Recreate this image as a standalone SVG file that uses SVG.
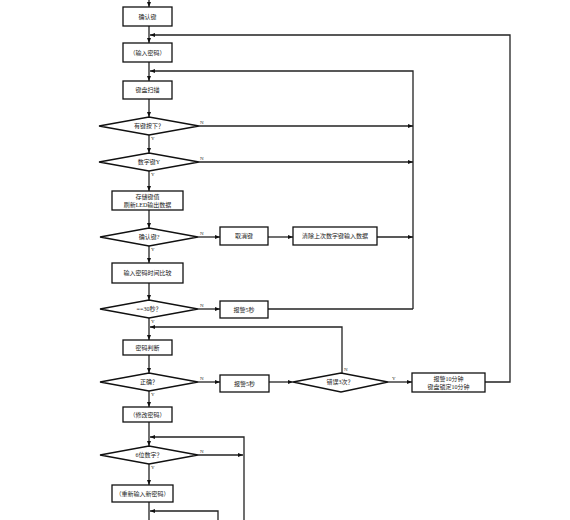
<svg xmlns="http://www.w3.org/2000/svg" width="570" height="520" viewBox="0 0 570 520">
<defs>
<marker id="ah" viewBox="0 0 10 10" refX="10" refY="5" markerWidth="5" markerHeight="5" orient="auto" markerUnits="userSpaceOnUse">
<path d="M0,1 L10,5 L0,9 z" fill="#111"/>
</marker>
</defs>
<style>
.n rect,.n polygon{fill:#fff;stroke:#111;stroke-width:1.3}
.n text{font-family:"Liberation Serif","Noto Sans CJK SC",serif;font-size:6px;fill:#222;text-anchor:middle}
.c path{fill:none;stroke:#222;stroke-width:1.3}
.c .a{marker-end:url(#ah)}
.lb{font-family:"Liberation Serif",serif;font-size:5px;fill:#333}
</style>
<rect width="570" height="520" fill="#fff"/>
<g class="c" id="connectors">
<path class="a" d="M149,0 V7"/>
<path class="a" d="M149,26 V43"/>
<path class="a" d="M149,62 V81"/>
<path class="a" d="M149,99 V117"/>
<path class="a" d="M149,135 V153"/>
<path class="a" d="M149,171 V191"/>
<path class="a" d="M149,210 V228"/>
<path class="a" d="M149,246 V263"/>
<path class="a" d="M149,283 V300"/>
<path class="a" d="M149,318 V340"/>
<path class="a" d="M149,355 V373"/>
<path class="a" d="M149,391 V407"/>
<path class="a" d="M149,422 V446"/>
<path class="a" d="M149,464 V485"/>
<path d="M149,502 V520"/>
<path class="a" d="M485,382 H510 V35 H150"/>
<path class="a" d="M413,309 V71 H150"/>
<path class="a" d="M199,126 H413"/>
<path class="a" d="M199,162 H413"/>
<path class="a" d="M198,237 H220"/>
<path class="a" d="M268,237 H293"/>
<path class="a" d="M377,237 H413"/>
<path class="a" d="M198,309 H220"/>
<path d="M268,309 H413"/>
<path class="a" d="M342,373 V327 H150"/>
<path class="a" d="M198,382 H220"/>
<path class="a" d="M269,382 H293"/>
<path class="a" d="M388,382 H412"/>
<path class="a" d="M244,520 V437 H150"/>
<path class="a" d="M198,455 H243"/>
<path class="a" d="M218,520 V511 H150"/>
</g>
<g class="lb">
<text x="200" y="124">N</text><text x="151" y="140">Y</text>
<text x="200" y="160">N</text><text x="151" y="176">Y</text>
<text x="200" y="235">N</text><text x="151" y="251">Y</text>
<text x="200" y="307">N</text><text x="151" y="323">Y</text>
<text x="200" y="380">N</text><text x="151" y="396">Y</text>
<text x="344" y="371">N</text><text x="392" y="380">Y</text>
<text x="200" y="453">N</text><text x="151" y="469">Y</text>
</g>
<g class="n" id="n1"><rect x="123" y="7" width="49" height="19"/><text x="147.5" y="18.5">确认键</text></g>
<g class="n" id="n2"><rect x="123" y="43" width="49" height="19"/><text x="147.5" y="54.5">（输入密码）</text></g>
<g class="n" id="n3"><rect x="123" y="81" width="49" height="18"/><text x="147.5" y="92">键盘扫描</text></g>
<g class="n" id="n4"><polygon points="99,126 149,117 199,126 149,135"/><text x="149" y="128">有键按下？</text></g>
<g class="n" id="n5"><polygon points="99,162 149,153 199,162 149,171"/><text x="149" y="164">数字键Y</text></g>
<g class="n" id="n6"><rect x="112" y="191" width="71" height="19"/><text x="147.5" y="199">存储键值</text><text x="147.5" y="206.5">刷新LED输出数据</text></g>
<g class="n" id="n7"><polygon points="100,237 149,228 198,237 149,246"/><text x="149" y="239">确认键?</text></g>
<g class="n" id="n8"><rect x="112" y="263" width="71" height="20"/><text x="147.5" y="275">输入密码时间比较</text></g>
<g class="n" id="n9"><polygon points="100,309 149,300 198,309 149,318"/><text x="149" y="311">==30秒？</text></g>
<g class="n" id="n10"><rect x="123" y="340" width="49" height="15"/><text x="147.5" y="349.5">密码判断</text></g>
<g class="n" id="n11"><polygon points="100,382 149,373 198,382 149,391"/><text x="149" y="384">正确？</text></g>
<g class="n" id="n12"><rect x="123" y="407" width="49" height="15"/><text x="147.5" y="416.5">（修改密码）</text></g>
<g class="n" id="n13"><polygon points="100,455 149,446 198,455 149,464"/><text x="149" y="457">6位数字？</text></g>
<g class="n" id="n14"><rect x="112" y="485" width="61" height="17"/><text x="142.5" y="495.5">（重新输入新密码）</text></g>
<g class="n" id="n15"><rect x="220" y="227" width="48" height="18"/><text x="244" y="238">取消键</text></g>
<g class="n" id="n16"><rect x="293" y="227" width="84" height="18"/><text x="335" y="238">清除上次数字键输入数据</text></g>
<g class="n" id="n17"><rect x="220" y="301" width="48" height="17"/><text x="244" y="311.5">报警5秒</text></g>
<g class="n" id="n18"><rect x="220" y="375" width="49" height="17"/><text x="244.5" y="385.5">报警5秒</text></g>
<g class="n" id="n19"><polygon points="293,382 341,373 388,382 341,392"/><text x="340" y="384">错误3次？</text></g>
<g class="n" id="n20"><rect x="412" y="373" width="73" height="19"/><text x="448.5" y="380.5">报警10分钟</text><text x="448.5" y="388.5">键盘锁定10分钟</text></g>
</svg>
